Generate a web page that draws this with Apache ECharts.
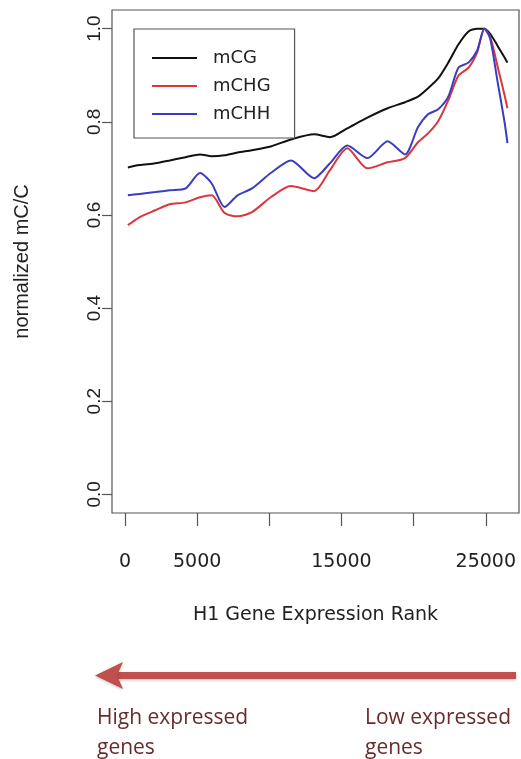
<!DOCTYPE html>
<html>
<head>
<meta charset="utf-8">
<script src="https://cdn.jsdelivr.net/npm/echarts@6/dist/echarts.min.js"></script>
<style>
html, body { margin: 0; padding: 0; background: #fff; }
#chart { width: 521px; height: 759px; }
</style>
</head>
<body>
<div id="chart"></div>
<script>
// gene expression rank (x) and normalized methylation per context
var rank = [200, 1000, 2100, 3100, 4200, 5200, 6000, 6900, 7800, 8800, 10100, 11500, 13100, 14200, 15400,
            16800, 18200, 19400, 20300, 21000, 21700, 22400, 23100, 23800, 24400, 24900, 25300, 25800, 26300, 26500];
var mCG  = [0.702, 0.707, 0.711, 0.717, 0.724, 0.730, 0.726, 0.728, 0.734, 0.739, 0.747, 0.762, 0.773, 0.767, 0.786,
            0.809, 0.829, 0.842, 0.854, 0.872, 0.893, 0.927, 0.966, 0.994, 1.000, 1.000, 0.989, 0.964, 0.938, 0.927];
var mCHG = [0.578, 0.595, 0.610, 0.623, 0.627, 0.638, 0.642, 0.604, 0.597, 0.606, 0.638, 0.662, 0.651, 0.696, 0.743,
            0.700, 0.713, 0.722, 0.756, 0.775, 0.801, 0.846, 0.899, 0.916, 0.949, 1.000, 0.983, 0.921, 0.857, 0.829];
var mCHH = [0.642, 0.645, 0.649, 0.653, 0.657, 0.690, 0.668, 0.617, 0.642, 0.657, 0.690, 0.717, 0.679, 0.711, 0.749,
            0.722, 0.758, 0.730, 0.788, 0.816, 0.827, 0.854, 0.916, 0.927, 0.953, 1.000, 0.979, 0.889, 0.799, 0.754];

var seriesNames = ['mCG', 'mCHG', 'mCHH'];
var xTicks = [0, 5000, 10000, 15000, 20000, 25000];
var xLabels = [0, 5000, 15000, 25000];
var yTicks = [0, 0.2, 0.4, 0.6, 0.8, 1.0];

function pairs(vals) {
    return rank.map(function (r, i) { return [r, vals[i]]; });
}

var myChart = echarts.init(document.getElementById('chart'));

function lineSeries(name, vals, color) {
    return {
        name: name,
        type: 'line',
        data: pairs(vals),
        smooth: 0.25,
        showSymbol: false,
        symbol: 'none',
        lineStyle: { color: color, width: 2 },
        itemStyle: { color: color }
    };
}

var option = {
    backgroundColor: '#fff',
    animation: false,
    grid: {
        show: true,
        left: 112, top: 10, width: 407, height: 503,
        borderColor: '#555', borderWidth: 1.2,
        backgroundColor: 'transparent'
    },
    legend: {
        orient: 'vertical',
        left: 134, top: 29,
        padding: [19, 24, 14, 18],
        itemGap: 8,
        itemWidth: 45, itemHeight: 2,
        icon: 'rect',
        borderColor: '#555', borderWidth: 1.2,
        backgroundColor: '#fff',
        textStyle: { fontFamily: 'DejaVu Sans', fontSize: 18, lineHeight: 20, color: '#222', padding: [0, 0, 0, 11] },
        data: seriesNames
    },
    xAxis: {
        type: 'value',
        min: -900, max: 27300,
        name: 'H1 Gene Expression Rank',
        nameLocation: 'middle',
        nameGap: 93,
        nameTextStyle: { fontFamily: 'DejaVu Sans', fontSize: 19, color: '#222' },
        axisLine: { show: false, onZero: false },
        splitLine: { show: false },
        axisTick: { show: true, inside: false, length: 13, customValues: xTicks, lineStyle: { color: '#555', width: 1.2 } },
        axisLabel: {
            customValues: xLabels, margin: 40, fontFamily: 'DejaVu Sans', fontSize: 19, color: '#222',
            formatter: function (v) { return String(v); }
        }
    },
    yAxis: {
        type: 'value',
        min: -0.04, max: 1.04,
        name: 'normalized mC/C',
        nameLocation: 'middle',
        nameGap: 80,
        nameTextStyle: { fontFamily: 'Liberation Sans', fontSize: 20, color: '#222' },
        axisLine: { show: false, onZero: false },
        splitLine: { show: false },
        axisTick: { show: true, inside: false, length: 10, customValues: yTicks, lineStyle: { color: '#555', width: 1.2 } },
        axisLabel: {
            customValues: yTicks, rotate: 90, margin: 8,
            fontFamily: 'Liberation Sans', fontSize: 19, color: '#222',
            formatter: function (v) { return v.toFixed(1); }
        }
    },
    series: [
        lineSeries('mCG', mCG, '#111111'),
        lineSeries('mCHG', mCHG, '#d8383c'),
        lineSeries('mCHH', mCHH, '#3c3cc0')
    ],
    graphic: [
        { type: 'rect', shape: { x: 114, y: 672, width: 402, height: 7 },
          style: { fill: '#c0504d', shadowBlur: 3, shadowColor: 'rgba(0,0,0,0.25)', shadowOffsetY: 1 } },
        { type: 'polygon', shape: { points: [[95, 675.5], [123, 662], [117, 675.5], [123, 689]] },
          style: { fill: '#c0504d', shadowBlur: 3, shadowColor: 'rgba(0,0,0,0.25)', shadowOffsetY: 1 } },
        { type: 'text', left: 97, top: 703,
          style: { text: 'High expressed\ngenes', fontFamily: 'Open Sans', fontSize: 21, lineHeight: 30, fill: '#6b2a2a' } },
        { type: 'text', left: 365, top: 703,
          style: { text: 'Low expressed\ngenes', fontFamily: 'Open Sans', fontSize: 21, lineHeight: 30, fill: '#6b2a2a' } }
    ]
};

myChart.setOption(option);
</script>
</body>
</html>
